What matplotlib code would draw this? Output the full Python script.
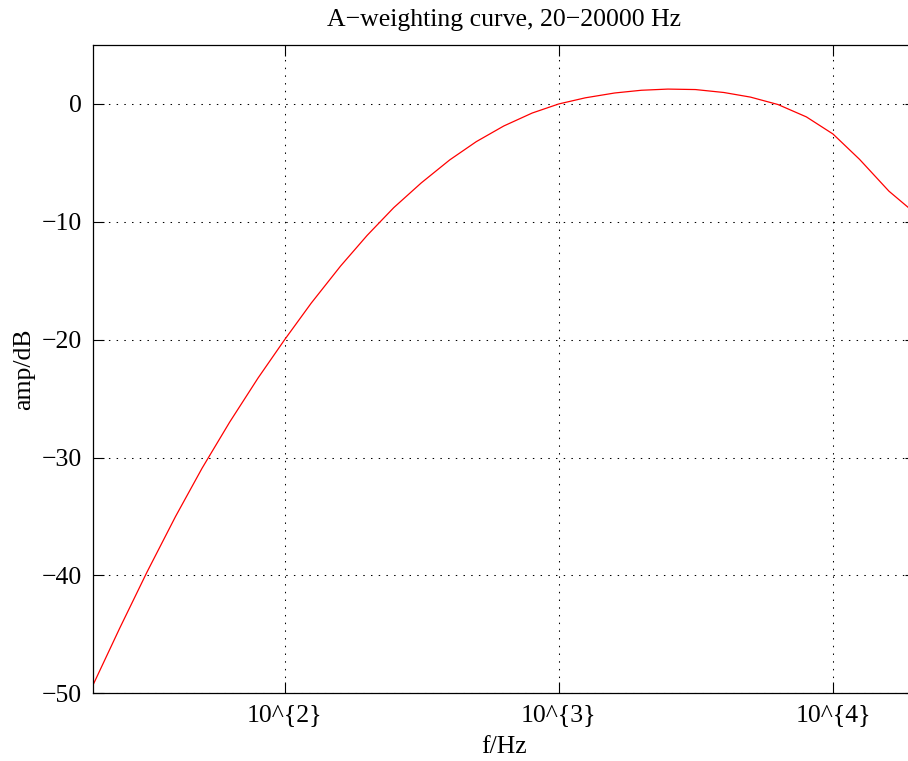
import matplotlib
matplotlib.use("Agg")
import matplotlib.pyplot as plt

# A-weighting response at third-octave centre frequencies
freq_hz = [20, 25, 31.5, 40, 50, 63, 80, 100, 125, 160, 200, 250, 315, 400,
           500, 630, 800, 1000, 1250, 1600, 2000, 2500, 3150, 4000, 5000,
           6300, 8000, 10000, 12500, 16000, 20000]
amp_db = [-49.3, -44.5, -39.7, -35.0, -30.9, -27.0, -23.25, -20.0, -16.9,
          -13.75, -11.15, -8.8, -6.7, -4.75, -3.2, -1.87, -0.77, 0.0, 0.52,
          0.93, 1.16, 1.26, 1.22, 0.97, 0.58, -0.05, -1.1, -2.55, -4.7, -7.4,
          -9.3]

x_ticks = [100, 1000, 10000]
x_tick_labels = ["10^{2}", "10^{3}", "10^{4}"]
y_ticks = [0, -10, -20, -30, -40, -50]
y_tick_labels = ["0", "\u221210", "\u221220", "\u221230", "\u221240", "\u221250"]

plt.rcParams["font.family"] = ["Liberation Serif", "DejaVu Serif"]

fig = plt.figure(figsize=(9.08, 7.61), dpi=100)
ax = fig.add_axes([93 / 908, 67.7 / 761, 822.5 / 908, 648.3 / 761])

ax.semilogx(freq_hz, amp_db, color="red", lw=0.9)

ax.set_xlim(20, 20000)
ax.set_ylim(-50, 5)
ax.set_xticks(x_ticks)
ax.set_xticklabels(x_tick_labels)
ax.xaxis.set_minor_locator(matplotlib.ticker.NullLocator())
ax.set_yticks(y_ticks)
ax.set_yticklabels(y_tick_labels)

ax.tick_params(direction="in", length=8, width=0.8, labelsize=18.5,
               top=True, right=True)
ax.tick_params(axis="y", pad=8)
ax.tick_params(axis="x", pad=8)
ax.grid(True, color="black", linestyle=(0, (1.4, 6)), linewidth=0.75)
for s in ax.spines.values():
    s.set_linewidth(0.9)

ax.set_title("A\u2212weighting curve, 20\u221220000 Hz", fontsize=18.5, pad=14)
ax.set_xlabel("f/Hz", fontsize=18.5, labelpad=7)
ax.set_ylabel("amp/dB", fontsize=18.5, labelpad=5)

fig.savefig("out.png", dpi=100)
